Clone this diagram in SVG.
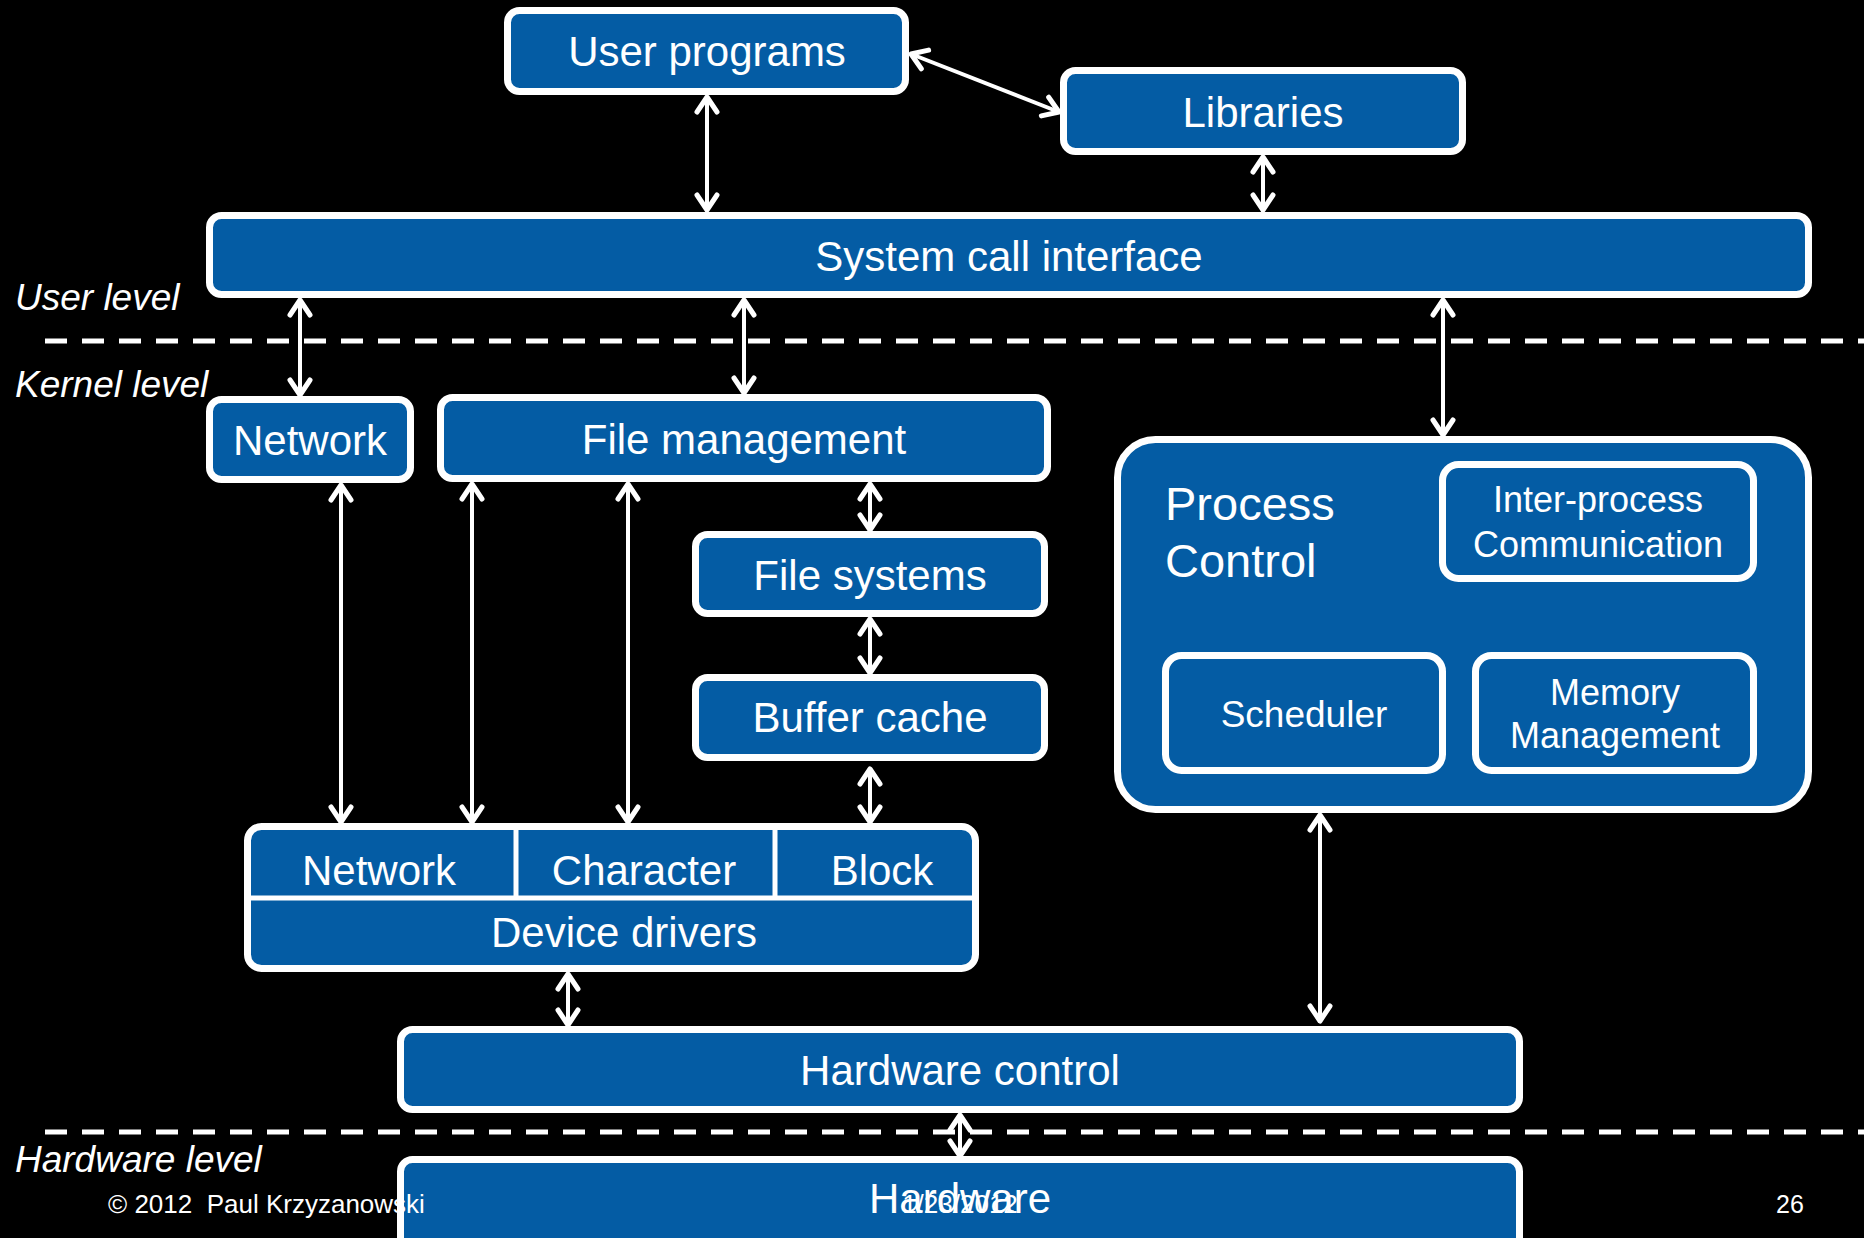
<svg xmlns="http://www.w3.org/2000/svg" width="1864" height="1238" viewBox="0 0 1864 1238">
<style>
.box{fill:#045CA4;stroke:#fff;stroke-width:7}
.t{font-family:"Liberation Sans",Arial,sans-serif;fill:#fff;font-size:42px;text-anchor:middle}
.s{font-size:36px}
.lvl{font-family:"Liberation Sans",Arial,sans-serif;fill:#fff;font-size:37px;font-style:italic}
.ft{font-family:"Liberation Sans",Arial,sans-serif;fill:#fff;font-size:26px;white-space:pre}
.c{stroke:#fff;stroke-width:4;fill:none;marker-start:url(#ah);marker-end:url(#ah)}
.dash{stroke:#fff;stroke-width:5;stroke-dasharray:22 15}
.div{stroke:#fff;stroke-width:5}
</style>
<defs>
<marker id="ah" viewBox="-20 -14 24 28" refX="0" refY="0" markerWidth="24" markerHeight="28" markerUnits="userSpaceOnUse" orient="auto-start-reverse">
<path d="M-15,-10 L0,0 L-15,10" fill="none" stroke="#fff" stroke-width="5" stroke-linecap="round" stroke-linejoin="round"/>
</marker>
</defs>
<rect width="1864" height="1238" fill="#000"/>
<g id="levels">
<line class="dash" x1="45" y1="341" x2="1864" y2="341"/>
<line class="dash" x1="45" y1="1132" x2="1864" y2="1132"/>
<text class="lvl" x="15" y="310">User level</text>
<text class="lvl" x="15" y="397">Kernel level</text>
<text class="lvl" x="15" y="1172">Hardware level</text>
</g>
<g id="user-programs"><rect class="box" x="507.5" y="10.5" width="398" height="81" rx="12"/><text class="t" x="707" y="66">User programs</text></g>
<g id="libraries"><rect class="box" x="1063.5" y="70.5" width="399" height="81" rx="12"/><text class="t" x="1263" y="127">Libraries</text></g>
<g id="syscall"><rect class="box" x="209.5" y="215.5" width="1599" height="79" rx="12"/><text class="t" x="1009" y="271">System call interface</text></g>
<g id="network"><rect class="box" x="209.5" y="399.5" width="201" height="80" rx="12"/><text class="t" x="310" y="455">Network</text></g>
<g id="file-management"><rect class="box" x="440.5" y="397.5" width="607" height="81" rx="12"/><text class="t" x="744" y="454">File management</text></g>
<g id="file-systems"><rect class="box" x="695.5" y="534.5" width="349" height="79" rx="12"/><text class="t" x="870" y="590">File systems</text></g>
<g id="buffer-cache"><rect class="box" x="695.5" y="677.5" width="349" height="80" rx="12"/><text class="t" x="870" y="732">Buffer cache</text></g>
<g id="process-control">
<rect class="box" x="1117.5" y="439.5" width="691" height="370" rx="38"/>
<text class="t" style="font-size:47px;text-anchor:start" x="1165" y="520">Process</text>
<text class="t" style="font-size:47px;text-anchor:start" x="1165" y="577">Control</text>
</g>
<g id="ipc"><rect class="box" x="1442.5" y="464.5" width="311" height="114" rx="16"/><text class="t s" x="1598" y="512">Inter-process</text><text class="t s" x="1598" y="557">Communication</text></g>
<g id="scheduler"><rect class="box" x="1165.5" y="655.5" width="277" height="115" rx="16"/><text class="t" style="font-size:37px" x="1304" y="727">Scheduler</text></g>
<g id="memory"><rect class="box" x="1475.5" y="655.5" width="278" height="115" rx="16"/><text class="t s" x="1615" y="705">Memory</text><text class="t s" x="1615" y="748">Management</text></g>
<g id="device-drivers">
<rect class="box" x="247.5" y="826.5" width="728" height="142" rx="14"/>
<line class="div" x1="516" y1="826" x2="516" y2="898"/>
<line class="div" x1="775" y1="826" x2="775" y2="898"/>
<line class="div" x1="247" y1="898" x2="976" y2="898"/>
<text class="t" x="379" y="885">Network</text>
<text class="t" x="644" y="885">Character</text>
<text class="t" x="882" y="885">Block</text>
<text class="t" x="624" y="947">Device drivers</text>
</g>
<g id="hardware-control"><rect class="box" x="400.5" y="1029.5" width="1119" height="80" rx="12"/><text class="t" x="960" y="1085">Hardware control</text></g>
<g id="hardware"><rect class="box" x="400.5" y="1159.5" width="1119" height="90" rx="12"/><text class="t" x="960" y="1213">Hardware</text></g>
<g id="connectors">
<line class="c" x1="707" y1="97" x2="707" y2="210"/>
<line class="c" x1="911" y1="54" x2="1059" y2="112"/>
<line class="c" x1="1263" y1="157" x2="1263" y2="210"/>
<line class="c" x1="300" y1="300" x2="300" y2="395"/>
<line class="c" x1="744" y1="300" x2="744" y2="393"/>
<line class="c" x1="1443" y1="300" x2="1443" y2="435"/>
<line class="c" x1="341" y1="485" x2="341" y2="822"/>
<line class="c" x1="472" y1="484" x2="472" y2="822"/>
<line class="c" x1="628" y1="484" x2="628" y2="822"/>
<line class="c" x1="870" y1="484" x2="870" y2="530"/>
<line class="c" x1="870" y1="619" x2="870" y2="673"/>
<line class="c" x1="870" y1="769" x2="870" y2="822"/>
<line class="c" x1="1320" y1="815" x2="1320" y2="1021"/>
<line class="c" x1="568" y1="974" x2="568" y2="1025"/>
<line class="c" x1="960" y1="1115" x2="960" y2="1156"/>
</g>
<g id="footer">
<text class="ft" x="108" y="1213" xml:space="preserve">© 2012  Paul Krzyzanowski</text>
<text class="ft" x="960" y="1213" text-anchor="middle">1/23/2012</text>
<text class="ft" x="1776" y="1213" style="font-size:25px">26</text>
</g>
</svg>
